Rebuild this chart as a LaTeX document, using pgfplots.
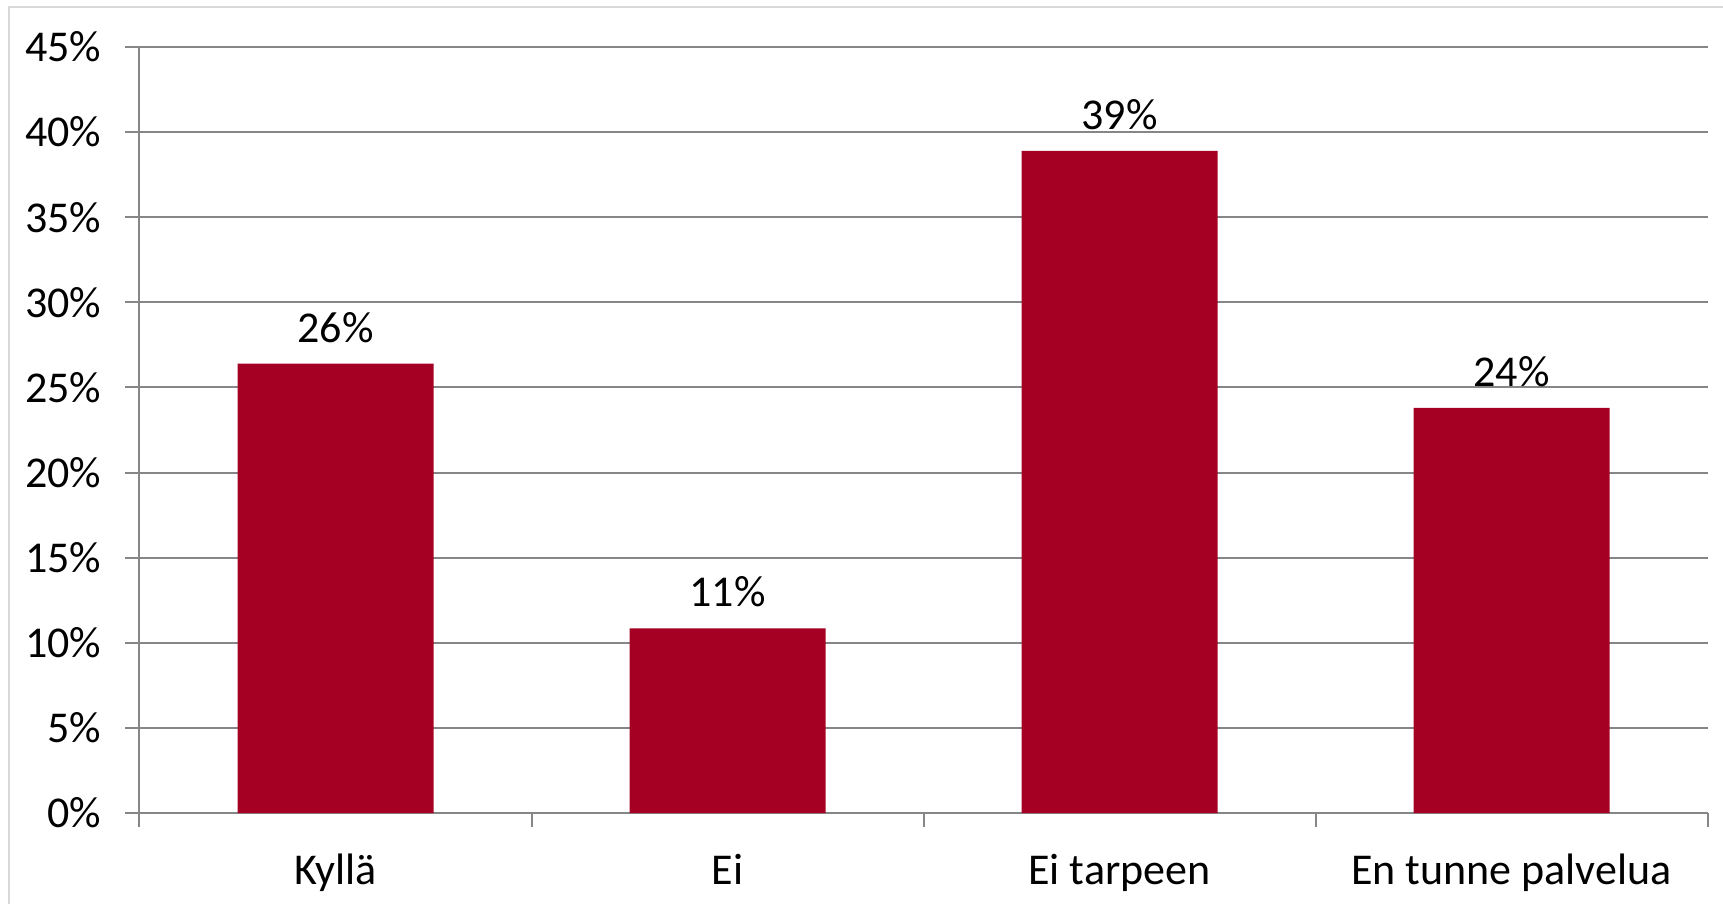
\documentclass[border=0pt]{standalone}
\usepackage{pgfplots}
\pgfplotsset{compat=1.18}
\usepackage{fontspec}
\setmainfont{Carlito}
\definecolor{barred}{RGB}{165,0,36}
\definecolor{gridgray}{RGB}{134,134,134}
\definecolor{framegray}{RGB}{217,217,217}
\begin{document}
\begin{tikzpicture}
\useasboundingbox (-69.75pt,-45.5pt) rectangle (791.75pt,406.5pt);
\draw[framegray, line width=0.8pt] (-65.25pt,-50pt) -- (-65.25pt,403pt) -- (795pt,403pt);
\begin{axis}[
  scale only axis,
  width=784pt, height=383pt,
  xmin=-0.5, xmax=3.5,
  ymin=0, ymax=45,
  axis x line*=bottom,
  axis y line*=left,
  axis line style={gridgray, line width=1pt},
  tick align=outside,
  xtick={0,1,2,3},
  xticklabels={Kyllä, Ei, Ei tarpeen, En tunne palvelua},
  major x tick style={draw=none},
  minor xtick={-0.5,0.5,1.5,2.5,3.5},
  minor tick length=7pt,
  minor x tick style={gridgray, line width=1pt},
  ytick={0,5,...,45},
  yticklabels={0\%,5\%,10\%,15\%,20\%,25\%,30\%,35\%,40\%,45\%},
  major tick length=7pt,
  major y tick style={gridgray, line width=1pt},
  ymajorgrids,
  grid style={gridgray, line width=1pt},
  tick label style={font=\fontsize{22}{26}\selectfont, text=black},
  yticklabel style={xshift=-8.5pt},
  xticklabel style={yshift=-10pt},
  point meta=explicit symbolic,
  nodes near coords,
  nodes near coords style={font=\fontsize{22}{26}\selectfont, text=black, yshift=7pt},
  clip=false,
]
\addplot[ybar, bar width=0.5, fill=barred, draw=none] coordinates {
  (0,26.4) [26\%]
  (1,10.85) [11\%]
  (2,38.9) [39\%]
  (3,23.8) [24\%]
};
\end{axis}
\end{tikzpicture}
\end{document}
